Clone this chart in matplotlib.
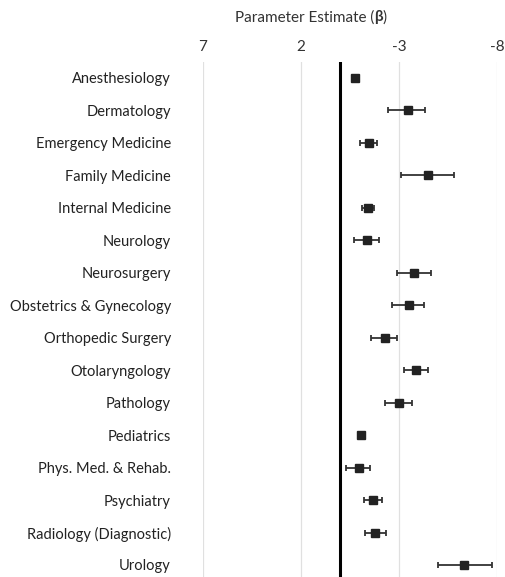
import numpy as np
import matplotlib.pyplot as plt

plt.rcParams['font.family'] = ['Lato', 'DejaVu Sans']
plt.rcParams['axes.unicode_minus'] = False

# Datos: estimaciones y limites de los intervalos
specialties = ['Anesthesiology', 'Dermatology', 'Emergency Medicine', 'Family Medicine',
               'Internal Medicine', 'Neurology', 'Neurosurgery', 'Obstetrics & Gynecology',
               'Orthopedic Surgery', 'Otolaryngology', 'Pathology', 'Pediatrics',
               'Phys. Med. & Rehab.', 'Psychiatry', 'Radiology (Diagnostic)', 'Urology']
estimate = [-0.75, -3.45, -1.48, -4.49, -1.43, -1.36, -3.79, -3.50,
            -2.28, -3.88, -2.98, -1.07, -0.97, -1.68, -1.80, -6.33]
ci_low = [-0.65, -2.55, -1.09, -3.16, -1.14, -0.71, -2.94, -2.70,
          -1.67, -3.28, -2.31, -0.97, -0.39, -1.24, -1.28, -4.93]
ci_high = [-0.85, -4.47, -1.94, -5.87, -1.73, -2.01, -4.68, -4.35,
           -2.96, -4.49, -3.67, -1.17, -1.65, -2.16, -2.33, -7.69]
ticks = [7, 2, -3, -8]

est = np.array(estimate)
xerr = [np.abs(np.array(ci_low) - est), np.abs(est - np.array(ci_high))]
y = np.arange(len(specialties))

fig = plt.figure(figsize=(5.05, 5.77), dpi=100)
ax = fig.add_axes([0.4014, 0.0, 0.5828, 0.8925])

ax.errorbar(est, y, xerr=xerr, fmt='s', color='#222222', ecolor='#333333',
            elinewidth=1.3, capsize=2.5, capthick=1.3, markersize=6, zorder=3)
ax.axvline(0, color='black', linewidth=2.2, zorder=2)

ax.set_xlim(7, -8)
ax.set_ylim(15.37, -0.49)
ax.set_xticks(ticks)
ax.xaxis.tick_top()
ax.tick_params(axis='x', length=0, labelsize=11, colors='#333333', pad=6)
ax.grid(axis='x', color='#e0e0e0', linewidth=0.9)
ax.set_axisbelow(True)
ax.set_yticks(y)
ax.set_yticklabels(specialties)
ax.tick_params(axis='y', length=0, labelsize=10.5, colors='#222222', pad=23)
for s in ax.spines.values():
    s.set_visible(False)

t1 = fig.text(0.465, 0.97, 'Parameter Estimate (', ha='left', va='center',
              fontsize=11, color='#333333')
t2 = ax.annotate('β', xy=(1, 0.5), xycoords=t1, va='center', ha='left',
                 fontsize=11, fontweight='bold', color='#333333',
                 annotation_clip=False)
ax.annotate(')', xy=(1, 0.5), xycoords=t2, va='center', ha='left',
            fontsize=11, color='#333333', annotation_clip=False)

fig.savefig('out.png', dpi=100)
